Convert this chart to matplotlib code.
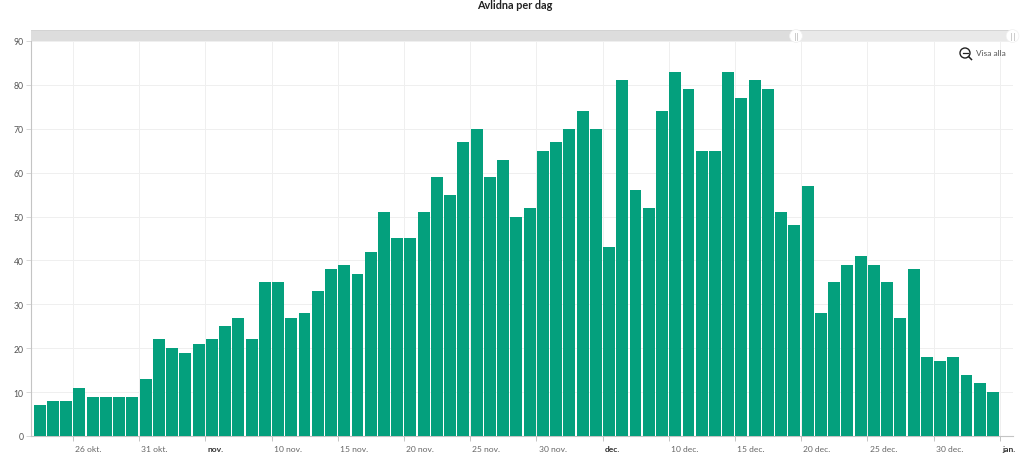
import matplotlib
matplotlib.use("Agg")
import matplotlib.pyplot as plt
from matplotlib.patches import Circle, Rectangle

plt.rcParams['font.family'] = ['Lato', 'DejaVu Sans']

title = "Avlidna per dag"
zoom_label = "Visa alla"
values = [7, 8, 8, 11, 9, 9, 9, 9, 13, 22, 20, 19, 21, 22, 25, 27, 22, 35, 35, 27, 28,
          33, 38, 39, 37, 42, 51, 45, 45, 51, 59, 55, 67, 70, 59, 63, 50, 52, 65, 67,
          70, 74, 70, 43, 81, 56, 52, 74, 83, 79, 65, 65, 83, 77, 81, 79, 51, 48, 57,
          28, 35, 39, 41, 39, 35, 27, 38, 18, 17, 18, 14, 12, 10]
tick_days = [3, 8, 13, 18, 23, 28, 33, 38, 43, 48, 53, 58, 63, 68, 73]
tick_labels = ["26 okt.", "31 okt.", "nov.", "10 nov.", "15 nov.", "20 nov.", "25 nov.",
               "30 nov.", "dec.", "10 dec.", "15 dec.", "20 dec.", "25 dec.", "30 dec.", "jan."]
bold_labels = ["nov.", "dec.", "jan."]
y_ticks = [0, 10, 20, 30, 40, 50, 60, 70, 80, 90]

W, H = 1024, 460
fig = plt.figure(figsize=(W / 100, H / 100), dpi=100, facecolor="white")
L, R, T, B = 31, 1013, 42, 437
ax = fig.add_axes([L / W, 1 - B / H, (R - L) / W, (B - T) / H])

ax.bar([i + 0.04 for i in range(len(values))], values, width=0.9, align="edge",
       color="#04a07d", edgecolor="none", zorder=3)

ax.set_xlim(-0.17, 74.0)
ax.set_ylim(0, 90)
ax.set_yticks(y_ticks)
ax.set_xticks(tick_days)
ax.set_xticklabels([])
ax.grid(True, color="#efefef", linewidth=0.7, zorder=0)
ax.set_axisbelow(True)
for s in ("top", "right"):
    ax.spines[s].set_visible(False)
for s in ("left", "bottom"):
    ax.spines[s].set_color("#c4c4c4")
    ax.spines[s].set_linewidth(0.8)
ax.tick_params(axis="y", length=3.5, width=0.7, color="#d8d8d8", labelsize=6.2,
               labelcolor="#555555", pad=2)
ax.tick_params(axis="x", length=3.5, width=0.7, color="#c4c4c4")

# tick labels sit just right of each tick mark
for d, lab in zip(tick_days, tick_labels):
    bold = lab in bold_labels
    ax.annotate(lab, xy=(d, 0), xycoords="data", xytext=(1.6, -9.0), textcoords="offset points",
                ha="left", va="center", fontsize=6.1,
                fontweight="bold" if bold else "normal",
                color="#333333" if bold else "#666666", annotation_clip=False)

# overlay in pixel coordinates: title, range slider, zoom button
ov = fig.add_axes([0, 0, 1, 1], facecolor="none")
ov.set_xlim(0, W)
ov.set_ylim(H, 0)
ov.axis("off")
ov.text(515, 5.5, title, ha="center", va="center", fontsize=7.8, fontweight="bold", color="#222222")
ov.add_patch(Rectangle((31, 31), 765, 11, facecolor="#dddddd", edgecolor="none"))
ov.add_patch(Rectangle((796, 31), 218, 11, facecolor="#e9e9e9", edgecolor="none"))
ov.plot([31, 1014], [31.3, 31.3], color="#d2d2d2", lw=0.6)
for hx in (796, 1012.5):
    ov.add_patch(Circle((hx, 37), 6.4, facecolor="white", edgecolor="#efefef", lw=0.5, zorder=5))
    for dx in (-1.1, 1.1):
        ov.plot([hx + dx, hx + dx], [33.5, 40.5], color="#cccccc", lw=0.7, zorder=6)
ov.add_patch(Circle((965, 54), 5, facecolor="white", edgecolor="#222222", lw=1.0))
ov.plot([962.5, 967.5], [54, 54], color="#222222", lw=0.9)
ov.plot([968.6, 971.5], [57.6, 60.5], color="#222222", lw=1.1)
ov.text(976, 54, zoom_label, ha="left", va="center", fontsize=6, color="#555555")

fig.savefig("out.png", dpi=100, facecolor="white")
